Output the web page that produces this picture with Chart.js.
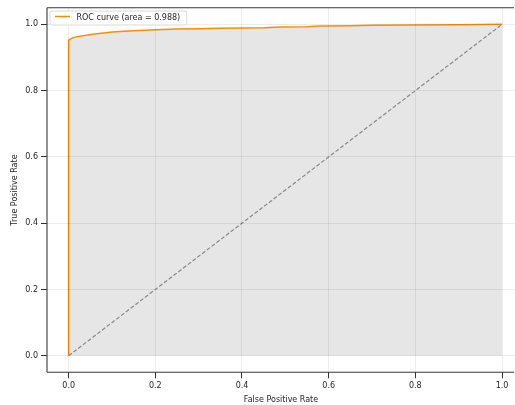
<!DOCTYPE html>
<html>
<head>
<meta charset="utf-8">
<script src="https://cdn.jsdelivr.net/npm/chart.js@4.4.1/dist/chart.umd.min.js"></script>
<style>
  html, body { margin: 0; padding: 0; background: #fff; overflow: hidden; }
</style>
</head>
<body>
<canvas id="myChart" width="515" height="405"></canvas>
<script>
// ROC curve
const fpr = [0, 0, 0.005, 0.01, 0.02, 0.04, 0.06, 0.08, 0.1, 0.15, 0.2, 0.25, 0.3, 0.35, 0.4, 0.45, 0.49, 0.55, 0.58, 0.65, 0.7, 0.8, 0.9, 1.0];
const tpr = [0, 0.952, 0.956, 0.96, 0.963, 0.967, 0.971, 0.974, 0.977, 0.981, 0.984, 0.986, 0.987, 0.988, 0.989, 0.990, 0.992, 0.993, 0.995, 0.996, 0.997, 0.998, 0.999, 1.0];
const diagX = [0, 1];
const diagY = [0, 1];
const tickValues = [0, 0.2, 0.4, 0.6, 0.8, 1.0];
const rocLabel = "ROC curve (area = 0.988)";

const FONT = "'DejaVu Sans', sans-serif";
const TEXT = "#262626";

const toPoints = (xs, ys) => xs.map((x, i) => ({ x: x, y: ys[i] }));
const setTicks = (axis) => { axis.ticks = tickValues.map((v) => ({ value: v })); };

// top, left and bottom spines (right one is cut off in the original)
const framePlugin = {
  id: "frame",
  afterDraw(chart) {
    const { ctx, chartArea: a } = chart;
    const hline = (y) => {
      ctx.beginPath();
      ctx.moveTo(a.left, y);
      ctx.lineTo(a.right - 1, y);
      ctx.stroke();
    };
    ctx.save();
    ctx.strokeStyle = "#3a3a3a";
    ctx.lineWidth = 1.1;
    hline(a.top);
    hline(a.bottom);
    ctx.beginPath();
    ctx.moveTo(a.left, a.top);
    ctx.lineTo(a.left, a.bottom);
    ctx.stroke();
    ctx.restore();
  },
};

// matplotlib style legend box, top left
const legendPlugin = {
  id: "mplLegend",
  afterDraw(chart) {
    const { ctx, chartArea: a } = chart;
    const ds = chart.data.datasets[0];
    ctx.save();
    ctx.font = "8px " + FONT;
    const w = ctx.measureText(ds.label).width;
    const x0 = a.left + 3, y0 = a.top + 3.2;
    const bw = 29 + w + 4, bh = 14;
    ctx.fillStyle = "rgba(255,255,255,0.85)";
    ctx.strokeStyle = "#d0d0d0";
    ctx.lineWidth = 0.8;
    ctx.beginPath();
    ctx.roundRect(x0, y0, bw, bh, 2);
    ctx.fill();
    ctx.stroke();
    ctx.strokeStyle = ds.borderColor;
    ctx.lineWidth = 1.5;
    ctx.beginPath();
    ctx.moveTo(x0 + 5, y0 + 5.5);
    ctx.lineTo(x0 + 20, y0 + 5.5);
    ctx.stroke();
    ctx.fillStyle = TEXT;
    ctx.textBaseline = "middle";
    ctx.fillText(ds.label, x0 + 26.5, y0 + 6.8);
    ctx.restore();
  },
};

const gridOpts = {
  z: 1,
  color: "rgba(0,0,0,0.09)",
  lineWidth: 0.8,
  borderDash: [3, 3],
  drawTicks: true,
  tickLength: 6,
  tickColor: "#333",
  tickWidth: 1,
  tickBorderDash: [],
};

const ctx = document.getElementById("myChart").getContext("2d");
const myChart = new Chart(ctx, {
  type: "line",
  data: {
    datasets: [
      {
        label: rocLabel,
        data: toPoints(fpr, tpr),
        borderColor: "#ff8c00",
        borderWidth: 1.5,
        backgroundColor: "rgba(128,128,128,0.2)",
        fill: "origin",
        pointRadius: 0,
        tension: 0,
      },
      {
        label: "chance",
        data: toPoints(diagX, diagY),
        borderColor: "#8a8a8a",
        borderWidth: 1.2,
        borderDash: [4, 2],
        fill: false,
        pointRadius: 0,
      },
    ],
  },
  options: {
    responsive: false,
    animation: false,
    devicePixelRatio: 1,
    layout: { padding: { top: 7.4, right: 0, left: 0, bottom: 0 } },
    plugins: {
      legend: { display: false },
      tooltip: { enabled: false },
    },
    scales: {
      x: {
        type: "linear",
        min: -0.05,
        max: 1.03,
        afterBuildTicks: setTicks,
        afterFit: (scale) => { scale.height = 32.7; },
        grid: gridOpts,
        border: { display: false },
        ticks: { padding: 3, color: TEXT, font: { family: FONT, size: 8 }, callback: (v) => v.toFixed(1) },
        title: { display: true, text: "False Positive Rate", color: TEXT, font: { family: FONT, size: 8 }, padding: 0 },
      },
      y: {
        type: "linear",
        min: -0.05,
        max: 1.05,
        afterBuildTicks: setTicks,
        afterFit: (scale) => { scale.width = 47; },
        grid: gridOpts,
        border: { display: false },
        ticks: { padding: 3, color: TEXT, font: { family: FONT, size: 8 }, callback: (v) => v.toFixed(1) },
        title: { display: true, text: "True Positive Rate", color: TEXT, font: { family: FONT, size: 8 }, padding: 10 },
      },
    },
  },
  plugins: [framePlugin, legendPlugin],
});
</script>
</body>
</html>
